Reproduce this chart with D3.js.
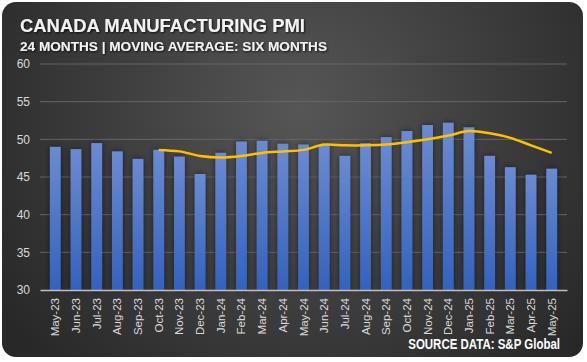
<!DOCTYPE html>
<html>
<head>
<meta charset="utf-8">
<script src="https://cdn.jsdelivr.net/npm/d3@7"></script>
<style>
  body { margin: 0; background: #fff; }
  svg { display: block; }
</style>
</head>
<body>
<div id="chart"></div>
<script>

var months = ["May-23","Jun-23","Jul-23","Aug-23","Sep-23","Oct-23","Nov-23","Dec-23","Jan-24","Feb-24","Mar-24","Apr-24","May-24",
  "Jun-24","Jul-24","Aug-24","Sep-24","Oct-24","Nov-24","Dec-24","Jan-25","Feb-25","Mar-25","Apr-25","May-25"];

var pmi = [49.0,48.7,49.5,48.4,47.4,48.6,47.7,45.4,48.2,49.7,49.8,49.4,49.3,
  49.3,47.8,49.5,50.3,51.1,51.9,52.2,51.6,47.8,46.3,45.3,46.1];

// six month moving average, first point at Oct-23
var movingAvg = [null,null,null,null,null,48.6,48.4,47.8,47.6,47.8,48.2,48.4,48.6,
  49.3,49.2,49.2,49.3,49.6,50.0,50.5,51.1,50.8,50.2,49.2,48.2];

var yTicks = [30,35,40,45,50,55,60];

var width = 587, height = 362;
var margin = {top: 64, right: 20, bottom: 72, left: 40};

var svg = d3.select("#chart")
  .append("svg")
  .attr("width", width)
  .attr("height", height);

var defs = svg.append("defs");

var bg = defs.append("radialGradient")
  .attr("id", "bg")
  .attr("gradientUnits", "userSpaceOnUse")
  .attr("cx", 300).attr("cy", 110).attr("r", 360);
bg.append("stop").attr("offset", "0%").attr("stop-color", "#565656");
bg.append("stop").attr("offset", "100%").attr("stop-color", "#282828");

var barGrad = defs.append("linearGradient")
  .attr("id", "barGrad")
  .attr("x1", 0).attr("y1", 0).attr("x2", 0).attr("y2", 1);
barGrad.append("stop").attr("offset", "0%").attr("stop-color", "#6a8bd3");
barGrad.append("stop").attr("offset", "100%").attr("stop-color", "#3262c0");

var shadow = defs.append("filter").attr("id", "shadow")
  .attr("x", "-50%").attr("y", "-10%").attr("width", "200%").attr("height", "120%");
shadow.append("feDropShadow")
  .attr("dx", 0).attr("dy", 0).attr("stdDeviation", 3)
  .attr("flood-color", "#000").attr("flood-opacity", 0.55);

var textShadow = defs.append("filter").attr("id", "tshadow");
textShadow.append("feDropShadow")
  .attr("dx", 1).attr("dy", 1).attr("stdDeviation", 1)
  .attr("flood-color", "#000").attr("flood-opacity", 0.8);

svg.append("rect")
  .attr("x", 2).attr("y", 2)
  .attr("width", 581).attr("height", 355)
  .attr("rx", 14).attr("ry", 14)
  .style("fill", "url(#bg)");

var x = d3.scaleBand()
  .domain(months)
  .range([margin.left, width - margin.right])
  .padding(0.48);

var y = d3.scaleLinear()
  .domain([30, 60])
  .range([height - margin.bottom, margin.top]);

// gridlines
svg.append("g")
  .selectAll("line")
  .data(yTicks.slice(1))
  .enter()
  .append("line")
  .attr("x1", margin.left)
  .attr("x2", width - margin.right)
  .attr("y1", function(d) { return y(d); })
  .attr("y2", function(d) { return y(d); })
  .attr("stroke", "#656565")
  .attr("stroke-width", 1);

// bars
svg.append("g")
  .selectAll("rect")
  .data(pmi)
  .enter()
  .append("rect")
  .attr("x", function(d, i) { return x(months[i]); })
  .attr("y", function(d) { return y(d); })
  .attr("width", x.bandwidth())
  .attr("height", function(d) { return y(30) - y(d); })
  .attr("filter", "url(#shadow)")
  .style("fill", "url(#barGrad)");

// moving average line
var line = d3.line()
  .defined(function(d) { return d != null; })
  .x(function(d, i) { return x(months[i]) + x.bandwidth() / 2; })
  .y(function(d) { return y(d); })
  .curve(d3.curveCatmullRom.alpha(0.5));

svg.append("path")
  .datum(movingAvg)
  .attr("d", line)
  .attr("fill", "none")
  .attr("stroke", "#ffc000")
  .attr("stroke-width", 2.5);

// axes
var yAxis = svg.append("g")
  .attr("transform", "translate(" + margin.left + ",0)")
  .call(d3.axisLeft(y).tickValues(yTicks).tickSize(0).tickPadding(10));
yAxis.select(".domain").remove();
yAxis.selectAll("text")
  .style("fill", "#d9d9d9")
  .style("font-family", "Liberation Sans, Arial, sans-serif")
  .style("font-size", "12px");

var xAxis = svg.append("g")
  .attr("transform", "translate(0," + y(30) + ")")
  .call(d3.axisBottom(x).tickSize(0).tickPadding(8));
xAxis.select(".domain")
  .attr("stroke", "#bfbfbf")
  .attr("stroke-width", 1.5);
xAxis.selectAll("text")
  .attr("transform", "rotate(-90)")
  .attr("x", -8)
  .attr("y", 0)
  .attr("dy", "0.35em")
  .style("text-anchor", "end")
  .style("fill", "#d9d9d9")
  .style("font-family", "Liberation Sans, Arial, sans-serif")
  .style("font-size", "11.5px");

// titles
svg.append("text")
  .attr("x", 20)
  .attr("y", 32)
  .attr("textLength", 285)
  .attr("lengthAdjust", "spacingAndGlyphs")
  .attr("filter", "url(#tshadow)")
  .style("fill", "#f2f2f2")
  .style("font-family", "Liberation Sans, Arial, sans-serif")
  .style("font-weight", "bold")
  .style("font-size", "19px")
  .text("CANADA MANUFACTURING PMI");

svg.append("text")
  .attr("x", 20)
  .attr("y", 51)
  .attr("textLength", 307)
  .attr("lengthAdjust", "spacingAndGlyphs")
  .attr("filter", "url(#tshadow)")
  .style("fill", "#f2f2f2")
  .style("font-family", "Liberation Sans, Arial, sans-serif")
  .style("font-weight", "bold")
  .style("font-size", "12.5px")
  .text("24 MONTHS | MOVING AVERAGE: SIX MONTHS");

// narrow look for the source note
svg.append("text")
  .attr("transform", "translate(560,349) scale(0.82,1)")
  .style("text-anchor", "end")
  .style("fill", "#ffffff")
  .style("font-family", "Liberation Sans, Arial, sans-serif")
  .style("font-weight", "bold")
  .style("font-size", "14px")
  .text("SOURCE DATA: S&P Global");

</script>
</body>
</html>
